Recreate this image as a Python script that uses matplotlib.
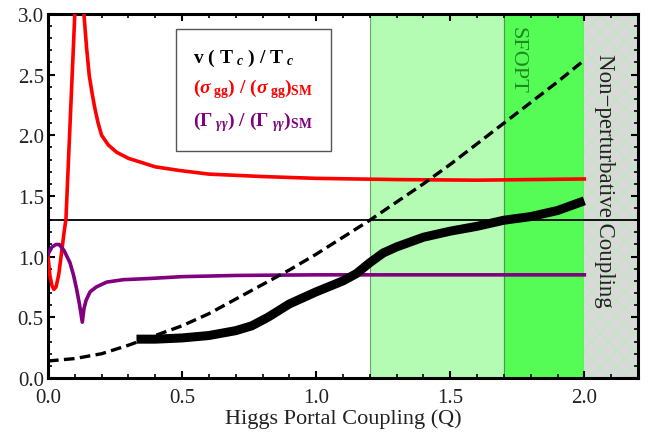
import numpy as np
import matplotlib
matplotlib.use('Agg')
import matplotlib.pyplot as plt
from matplotlib.ticker import MultipleLocator, FormatStrFormatter

plt.rcParams['font.family'] = ['Liberation Serif', 'DejaVu Serif']
plt.rcParams['mathtext.fontset'] = 'custom'
plt.rcParams['mathtext.rm'] = 'Liberation Serif:bold'
plt.rcParams['mathtext.it'] = 'Liberation Serif:italic:bold'
plt.rcParams['mathtext.bf'] = 'Liberation Serif:bold'

# sigma_gg ratio (two branches around the pole)
sig_x_left = [0.0, 0.0075, 0.015, 0.022, 0.03, 0.04, 0.051, 0.06, 0.067, 0.075, 0.085,
              0.095, 0.1, 0.106]
sig_y_left = [1.0, 0.84, 0.76, 0.73, 0.75, 0.85, 1.04, 1.20, 1.31, 1.72, 2.23,
              2.74, 3.00, 3.30]
sig_x_right = [0.128, 0.134, 0.144, 0.154, 0.165, 0.175, 0.187, 0.2, 0.225, 0.256, 0.3,
               0.343, 0.4, 0.49, 0.6, 0.8, 1.0, 1.3, 1.6, 2.0]
sig_y_right = [3.40, 3.00, 2.72, 2.49, 2.34, 2.22, 2.10, 2.00, 1.92, 1.86, 1.81,
               1.78, 1.74, 1.71, 1.68, 1.66, 1.645, 1.635, 1.63, 1.64]

# Gamma_gammagamma ratio
gam_x = [0.0, 0.015, 0.03, 0.042, 0.06, 0.082, 0.095, 0.107, 0.118, 0.128, 0.134, 0.142,
         0.157, 0.18, 0.219, 0.28, 0.38, 0.5, 0.7, 1.0, 1.5, 2.0]
gam_y = [1.02, 1.08, 1.10, 1.10, 1.05, 0.95, 0.85, 0.73, 0.60, 0.46, 0.57, 0.64,
         0.71, 0.75, 0.79, 0.81, 0.82, 0.835, 0.845, 0.85, 0.85, 0.85]

# v(Tc)/Tc
vt_x = [0.33, 0.4, 0.5, 0.6, 0.7, 0.76, 0.82, 0.9, 1.0, 1.1, 1.15, 1.2, 1.25, 1.3,
        1.4, 1.5, 1.6, 1.7, 1.8, 1.9, 2.0]
vt_y = [0.32, 0.32, 0.33, 0.35, 0.39, 0.43, 0.50, 0.61, 0.71, 0.80, 0.86, 0.95, 1.03, 1.08,
        1.16, 1.21, 1.25, 1.30, 1.33, 1.38, 1.46]

# dashed curve
dash_x = [0.0, 0.1, 0.2, 0.3, 0.4, 0.5, 0.6, 0.7, 0.8, 0.9, 1.0, 1.1, 1.2, 1.3, 1.4,
          1.5, 1.6, 1.7, 1.8, 1.9, 2.0]
dash_y = [0.14, 0.16, 0.20, 0.27, 0.35, 0.43, 0.53, 0.65, 0.77, 0.89, 1.02, 1.16, 1.30,
          1.45, 1.60, 1.76, 1.93, 2.10, 2.27, 2.44, 2.62]

H_LINE = 1.3
LIGHT_BAND = (1.2, 1.7)
SFOPT_BAND = (1.7, 2.0)
NONPERT_BAND = (2.0, 2.2)

fig = plt.figure(figsize=(6.51, 4.39), dpi=100)
ax = fig.add_axes([0.0737, 0.1367, 0.9063, 0.8293])

ax.axvspan(*LIGHT_BAND, facecolor='#b4fcb4', edgecolor='#6aa86a', linewidth=0.8, zorder=0)
ax.axvspan(*SFOPT_BAND, facecolor='#55fc55', edgecolor='#4a9a4a', linewidth=0.8, zorder=0)
ax.axvspan(*NONPERT_BAND, facecolor='#d9d9d9', edgecolor='#bfe8bf', hatch='xx',
           linewidth=0, zorder=0)

ax.axhline(H_LINE, color='black', lw=1.3, zorder=2)

ax.plot(sig_x_left, sig_y_left, color='red', lw=2.6, zorder=3)
l_sig, = ax.plot(sig_x_right, sig_y_right, color='red', lw=2.6, zorder=3,
                 label=r'$(\sigma_{\ \mathrm{gg}})\ /\ (\sigma_{\ \mathrm{gg}})_{\mathrm{SM}}$')
l_gam, = ax.plot(gam_x, gam_y, color='purple', lw=2.6, zorder=3,
                 label=r'$(\Gamma_{\ \gamma\gamma})\ /\ (\Gamma_{\ \gamma\gamma})_{\mathrm{SM}}$')
ax.plot(dash_x, dash_y, color='black', lw=2.4, ls=(0, (3.2, 1.6)), zorder=4)
l_vt, = ax.plot(vt_x, vt_y, color='black', lw=6.5, solid_capstyle='butt', zorder=4,
                label=r'$\mathrm{v\ (\ T}_{\ c}\mathrm{\ )\ /\ T}_{\ c}$')

ax.text(1.75, 2.9, 'SFOPT', rotation=-90, color='#1f8a1f', fontsize=16,
        ha='center', va='top')
ax.text(2.075, 1.63, 'Non\u2212perturbative Coupling', rotation=-90, color='#222222',
        fontsize=16.5, ha='center', va='center')

leg = ax.legend(handles=[l_vt, l_sig, l_gam], loc='upper left',
                bbox_to_anchor=(0.2, 0.985), handlelength=0, handletextpad=0,
                labelcolor='linecolor', fontsize=14, fancybox=False,
                framealpha=1, borderpad=0.9, labelspacing=0.45)
leg.get_frame().set_edgecolor('#555555')
leg.get_frame().set_linewidth(1.0)
for h in leg.legend_handles:
    h.set_visible(False)

ax.set_xlim(0, 2.2)
ax.set_ylim(0, 3.0)
ax.xaxis.set_major_locator(MultipleLocator(0.5))
ax.xaxis.set_minor_locator(MultipleLocator(0.1))
ax.yaxis.set_major_locator(MultipleLocator(0.5))
ax.yaxis.set_minor_locator(MultipleLocator(0.1))
ax.xaxis.set_major_formatter(FormatStrFormatter('%.1f'))
ax.yaxis.set_major_formatter(FormatStrFormatter('%.1f'))
ax.tick_params(which='both', direction='in', top=True, right=True, labelsize=15,
               color='black', labelcolor='#222222')
ax.tick_params(which='major', length=5, width=1.5)
ax.tick_params(which='minor', length=3, width=1.2)
ax.tick_params(axis='x', which='major', pad=7)
ax.tick_params(axis='y', which='major', pad=3)
for s in ax.spines.values():
    s.set_linewidth(2.2)

ax.set_xlabel('Higgs Portal Coupling (Q)', fontsize=16, color='#222222', labelpad=1)

fig.savefig('out.png', dpi=100)
